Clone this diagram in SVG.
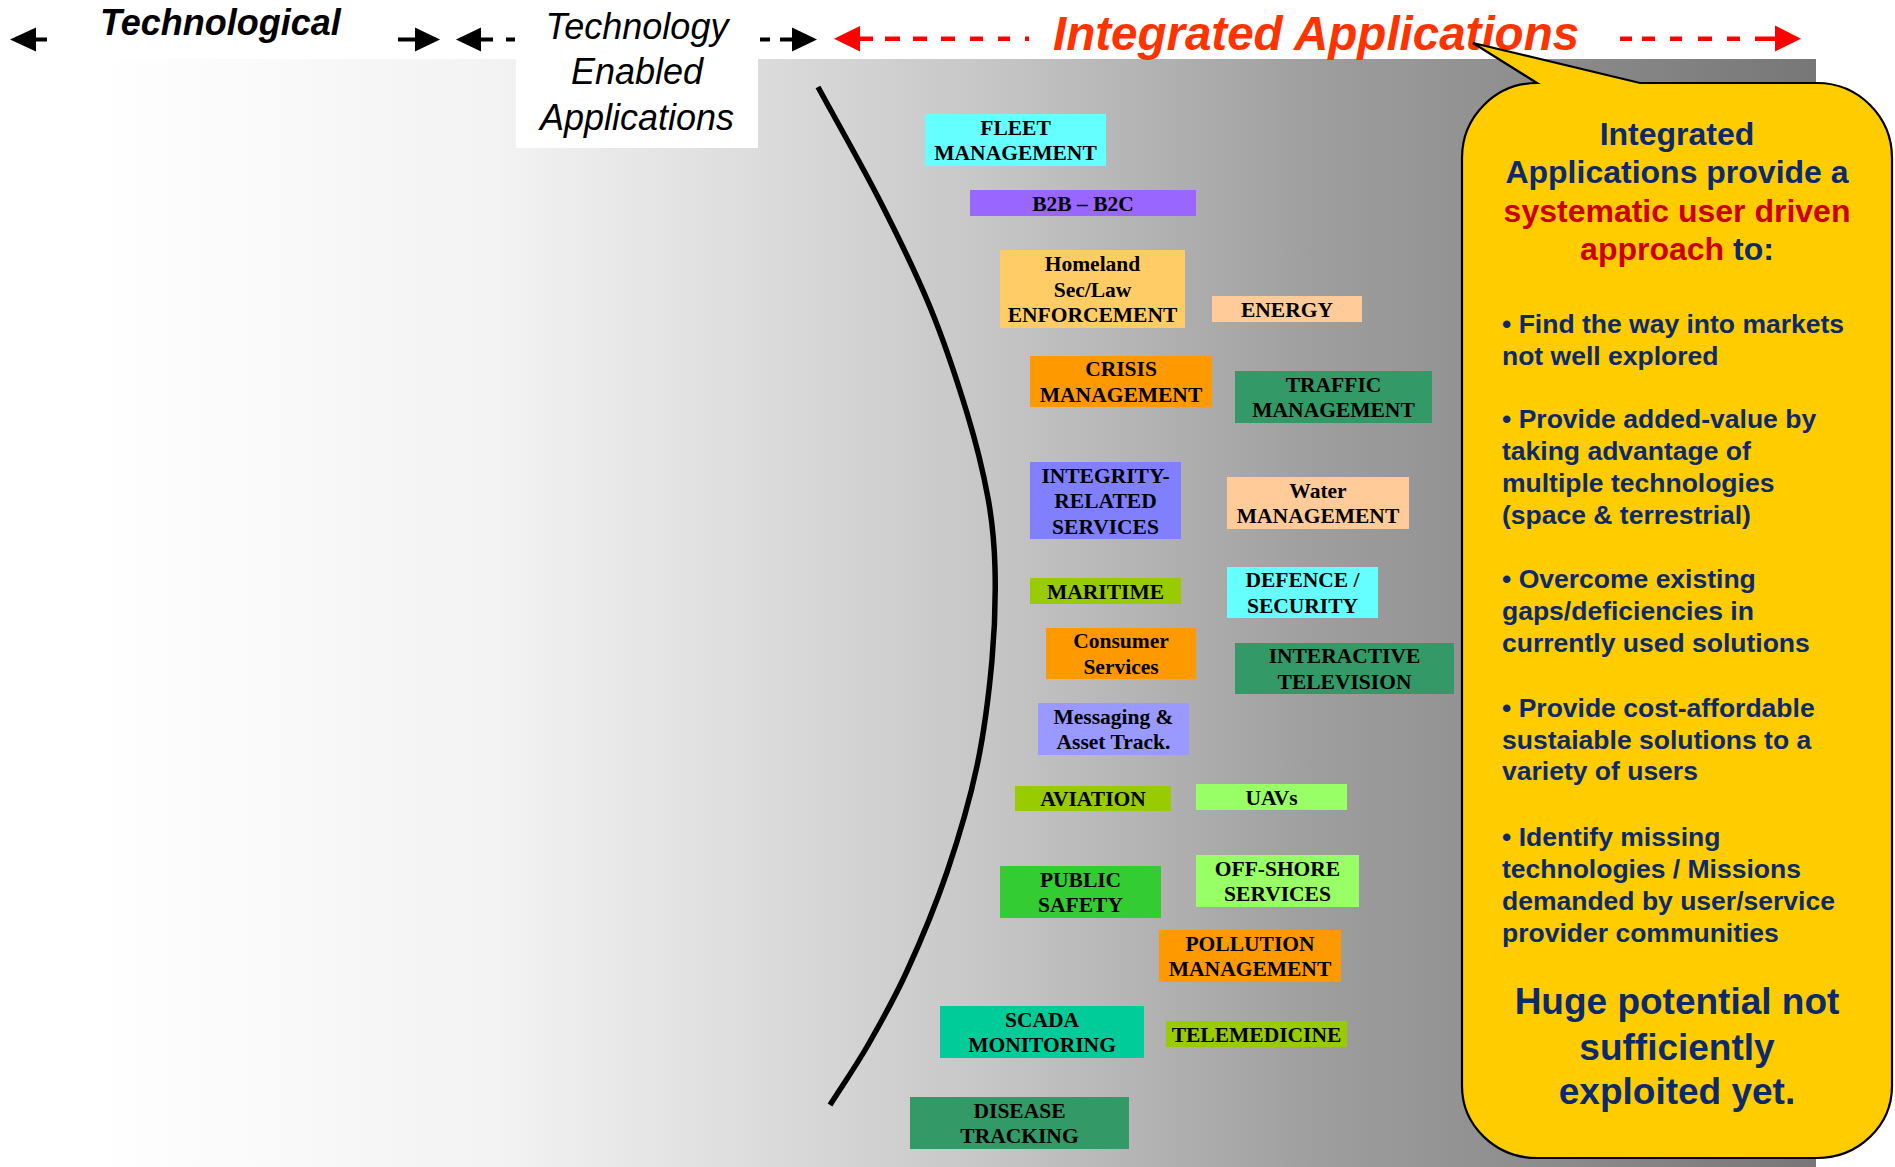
<svg xmlns="http://www.w3.org/2000/svg" width="1895" height="1167" viewBox="0 0 1895 1167">
<defs>
  <linearGradient id="bg" x1="0" y1="0" x2="1" y2="0">
    <stop offset="0" stop-color="#ffffff"/>
    <stop offset="0.24" stop-color="#f2f2f2"/>
    <stop offset="0.39" stop-color="#dbdbdb"/>
    <stop offset="0.52" stop-color="#c6c6c6"/>
    <stop offset="0.71" stop-color="#9e9e9e"/>
    <stop offset="1" stop-color="#777777"/>
  </linearGradient>
</defs>
<style>
  .box text { font-family: "Liberation Serif", "Times New Roman", serif; font-weight: bold; font-size: 21.5px; text-anchor: middle; fill: #000; }
  .hdr { font-family: "Liberation Sans", Arial, sans-serif; font-style: italic; font-size: 36px; fill: #000; }
  .co { font-family: "Liberation Sans", Arial, sans-serif; font-weight: bold; fill: #0c2a6b; }
  .ttl { font-size: 32px; text-anchor: middle; }
  .bul { font-size: 26.5px; }
  .big { font-size: 37px; text-anchor: middle; }
  .red { fill: #cc0000; }
  .blk { fill: #000; }
  .rd { fill: #ff0000; }
</style>

<rect x="0" y="0" width="1895" height="1167" fill="#ffffff"/>
<rect x="96" y="59" width="1720" height="1108" fill="url(#bg)"/>

<!-- header labels -->
<g id="hdr-tech">
  <text class="hdr" x="100" y="35" font-weight="bold">Technological</text>
</g>
<g id="hdr-enabled">
  <rect x="516" y="0" width="242" height="148" fill="#ffffff"/>
  <text class="hdr" x="637" y="38.5" text-anchor="middle">Technology</text>
  <text class="hdr" x="637" y="84" text-anchor="middle">Enabled</text>
  <text class="hdr" x="637" y="129.5" text-anchor="middle">Applications</text>
</g>
<g id="hdr-integrated">
  <text x="1053" y="50" font-family="Liberation Sans, Arial, sans-serif" font-weight="bold" font-style="italic" font-size="47.5" fill="#ff3300">Integrated Applications</text>
</g>

<g id="connectors">
  <!-- black arrows -->
  <polygon class="blk" points="10,39.5 36,27.5 36,51.5"/>
  <rect class="blk" x="35" y="37.5" width="12" height="4"/>
  <rect class="blk" x="398" y="37.5" width="18" height="4"/>
  <polygon class="blk" points="440,39.5 415,27.5 415,51.5"/>
  <polygon class="blk" points="456,39.5 481,27.5 481,51.5"/>
  <rect class="blk" x="480" y="37.5" width="13" height="4"/>
  <rect class="blk" x="506" y="37.5" width="9" height="4"/>
  <rect class="blk" x="760" y="37.5" width="10" height="4"/>
  <rect class="blk" x="780" y="37.5" width="13" height="4"/>
  <polygon class="blk" points="817,39.5 792,27.5 792,51.5"/>
  <!-- red arrows -->
  <polygon class="rd" points="834,38.7 860,26 860,51.5"/>
  <path d="M859,38.7h14 M885,38.7h15 M913,38.7h14 M941,38.7h14 M970,38.7h13 M998,38.7h12 M1025,38.7h4" stroke="#ff0000" stroke-width="4.5" fill="none"/>
  <path d="M1620,38.7h12 M1642,38.7h13 M1670,38.7h12 M1698,38.7h14 M1727,38.7h13 M1755,38.7h21" stroke="#ff0000" stroke-width="4.5" fill="none"/>
  <polygon class="rd" points="1801,38.7 1775,25.5 1775,51.5"/>
</g>

<!-- arc -->
<path id="arc" d="M818,87 C838.7,125 861.3,164.3 880,201 C898.7,237.7 915.5,271.7 930,307 C944.5,342.3 957.3,381.2 967,413 C976.7,444.8 983.3,472.2 988,498 C992.7,523.8 994.3,541 995,568 C995.7,595 995,627 992,660 C989,693 984.5,730.7 977,766 C969.5,801.3 958.7,837.8 947,872 C935.3,906.2 920.2,942.2 907,971 C893.8,999.8 880.8,1022.7 868,1045 C855.2,1067.3 842.7,1085 830,1105" fill="none" stroke="#000" stroke-width="5.5"/>

<!-- application boxes -->
<g id="fleet" class="box"><rect x="925" y="114" width="181" height="52" fill="#66ffff"/><text x="1015.5" y="134.75">FLEET</text><text x="1015.5" y="160.25">MANAGEMENT</text></g>
<g id="b2b" class="box"><rect x="970" y="190" width="226" height="26" fill="#9966ff"/><text x="1083" y="210.5">B2B – B2C</text></g>
<g id="homeland" class="box"><rect x="1000" y="250" width="185" height="78" fill="#ffcc66"/><text x="1092.5" y="271">Homeland</text><text x="1092.5" y="296.5">Sec/Law</text><text x="1092.5" y="322">ENFORCEMENT</text></g>
<g id="energy" class="box"><rect x="1212" y="296" width="150" height="26" fill="#ffcc99"/><text x="1287" y="316.5">ENERGY</text></g>
<g id="crisis" class="box"><rect x="1030" y="356" width="182" height="51" fill="#ff9900"/><text x="1121" y="376.25">CRISIS</text><text x="1121" y="401.75">MANAGEMENT</text></g>
<g id="traffic" class="box"><rect x="1235" y="371" width="197" height="52" fill="#339966"/><text x="1333.5" y="391.75">TRAFFIC</text><text x="1333.5" y="417.25">MANAGEMENT</text></g>
<g id="integrity" class="box"><rect x="1030" y="462" width="151" height="77" fill="#8080ff"/><text x="1105.5" y="482.5">INTEGRITY-</text><text x="1105.5" y="508">RELATED</text><text x="1105.5" y="533.5">SERVICES</text></g>
<g id="water" class="box"><rect x="1227" y="477" width="182" height="52" fill="#ffcc99"/><text x="1318" y="497.75">Water</text><text x="1318" y="523.25">MANAGEMENT</text></g>
<g id="maritime" class="box"><rect x="1030" y="578" width="151" height="26" fill="#99cc00"/><text x="1105.5" y="598.5">MARITIME</text></g>
<g id="defence" class="box"><rect x="1227" y="567" width="151" height="51" fill="#66ffff"/><text x="1302.5" y="587.25">DEFENCE /</text><text x="1302.5" y="612.75">SECURITY</text></g>
<g id="consumer" class="box"><rect x="1046" y="628" width="150" height="51" fill="#ff9900"/><text x="1121" y="648.25">Consumer</text><text x="1121" y="673.75">Services</text></g>
<g id="interactive" class="box"><rect x="1235" y="643" width="219" height="51" fill="#339966"/><text x="1344.5" y="663.25">INTERACTIVE</text><text x="1344.5" y="688.75">TELEVISION</text></g>
<g id="messaging" class="box"><rect x="1038" y="703" width="151" height="52" fill="#9999ff"/><text x="1113.5" y="723.75">Messaging &amp;</text><text x="1113.5" y="749.25">Asset Track.</text></g>
<g id="aviation" class="box"><rect x="1015" y="786" width="156" height="25" fill="#99cc00"/><text x="1093" y="806">AVIATION</text></g>
<g id="uavs" class="box"><rect x="1196" y="784" width="151" height="26" fill="#99ff66"/><text x="1271.5" y="804.5">UAVs</text></g>
<g id="public" class="box"><rect x="1000" y="866" width="161" height="52" fill="#33cc33"/><text x="1080.5" y="886.75">PUBLIC</text><text x="1080.5" y="912.25">SAFETY</text></g>
<g id="offshore" class="box"><rect x="1196" y="855" width="163" height="52" fill="#99ff66"/><text x="1277.5" y="875.75">OFF-SHORE</text><text x="1277.5" y="901.25">SERVICES</text></g>
<g id="pollution" class="box"><rect x="1159" y="930" width="182" height="52" fill="#ff9900"/><text x="1250" y="950.75">POLLUTION</text><text x="1250" y="976.25">MANAGEMENT</text></g>
<g id="scada" class="box"><rect x="940" y="1006" width="204" height="52" fill="#00cc99"/><text x="1042" y="1026.75">SCADA</text><text x="1042" y="1052.25">MONITORING</text></g>
<g id="telemedicine" class="box"><rect x="1166" y="1021" width="181" height="26" fill="#99cc00"/><text x="1256.5" y="1041.5">TELEMEDICINE</text></g>
<g id="disease" class="box"><rect x="910" y="1097" width="219" height="52" fill="#339966"/><text x="1019.5" y="1117.75">DISEASE</text><text x="1019.5" y="1143.25">TRACKING</text></g>

<!-- callout -->
<g id="callout">
  <path d="M1537,83 L1473,43 L1640,83 H1817 A75,75 0 0 1 1892,158 V1086 A75,72 0 0 1 1817,1158 H1537 A75,72 0 0 1 1462,1086 V158 A75,75 0 0 1 1537,83 Z" fill="#ffcc00" stroke="#000" stroke-width="2.2" stroke-linejoin="miter"/>
  <text class="co ttl" x="1677" y="144.5">Integrated</text>
  <text class="co ttl" x="1677" y="183">Applications provide a</text>
  <text class="co ttl red" x="1677" y="221.5">systematic user driven</text>
  <text class="co ttl" x="1677" y="260"><tspan class="red">approach</tspan> to:</text>
  <text class="co bul" x="1502" y="333">• Find the way into markets</text>
  <text class="co bul" x="1502" y="365">not well explored</text>
  <text class="co bul" x="1502" y="428">• Provide added-value by</text>
  <text class="co bul" x="1502" y="460">taking advantage of</text>
  <text class="co bul" x="1502" y="492">multiple technologies</text>
  <text class="co bul" x="1502" y="524">(space &amp; terrestrial)</text>
  <text class="co bul" x="1502" y="588">• Overcome existing</text>
  <text class="co bul" x="1502" y="620">gaps/deficiencies in</text>
  <text class="co bul" x="1502" y="652">currently used solutions</text>
  <text class="co bul" x="1502" y="716.5">• Provide cost-affordable</text>
  <text class="co bul" x="1502" y="748.5">sustaiable solutions to a</text>
  <text class="co bul" x="1502" y="780">variety of users</text>
  <text class="co bul" x="1502" y="846">• Identify missing</text>
  <text class="co bul" x="1502" y="878">technologies / Missions</text>
  <text class="co bul" x="1502" y="910">demanded by user/service</text>
  <text class="co bul" x="1502" y="941.5">provider communities</text>
  <text class="co big" x="1677" y="1014">Huge potential not</text>
  <text class="co big" x="1677" y="1060">sufficiently</text>
  <text class="co big" x="1677" y="1104">exploited yet.</text>
</g>
</svg>
